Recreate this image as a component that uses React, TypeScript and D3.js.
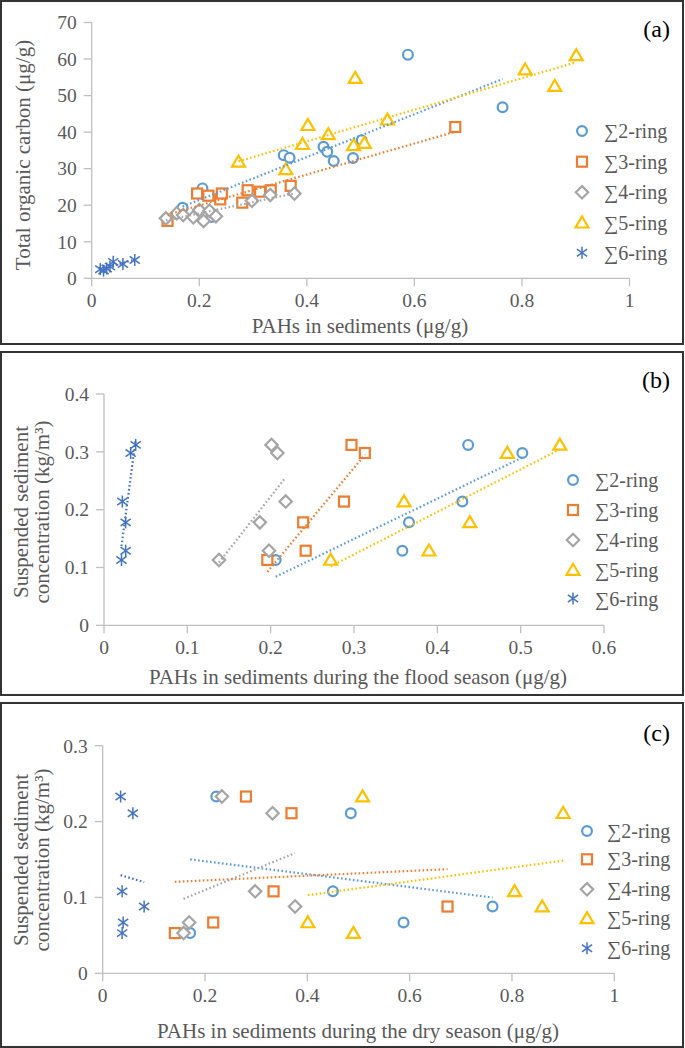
import React from 'react';
import * as d3 from 'd3';

const FONT = '"Liberation Serif", "Times New Roman", serif';

// ---------- series meta ----------
const seriesNames = ['∑2-ring', '∑3-ring', '∑4-ring', '∑5-ring', '∑6-ring'];
const seriesColors = ['#5B9BD5', '#ED7D31', '#A5A5A5', '#FFC000', '#4472C4'];
const seriesShapes = ['circle', 'square', 'diamond', 'triangle', 'star'];

// ---------- panel (a): TOC vs PAHs in sediments ----------
const a2x = [0.169, 0.206, 0.223, 0.357, 0.368, 0.431, 0.438, 0.450, 0.486, 0.502, 0.588, 0.764];
const a2y = [19.3, 24.6, 16.8, 33.7, 33.0, 36.0, 34.6, 32.1, 32.9, 37.8, 61.2, 46.8];
const a3x = [0.141, 0.196, 0.217, 0.239, 0.242, 0.280, 0.290, 0.313, 0.333, 0.370, 0.676];
const a3y = [15.7, 23.2, 22.6, 21.6, 23.2, 20.7, 24.1, 23.7, 24.1, 25.3, 41.4];
const a4x = [0.138, 0.158, 0.170, 0.189, 0.200, 0.208, 0.219, 0.231, 0.298, 0.332, 0.377];
const a4y = [16.4, 17.8, 17.3, 16.7, 18.7, 15.7, 18.5, 17.0, 21.2, 22.8, 23.2];
const a5x = [0.273, 0.361, 0.392, 0.402, 0.440, 0.487, 0.490, 0.507, 0.550, 0.806, 0.861, 0.901];
const a5y = [31.9, 29.8, 36.7, 41.9, 39.4, 36.4, 54.8, 37.0, 43.4, 57.1, 52.6, 61.0];
const a6x = [0.016, 0.022, 0.028, 0.034, 0.040, 0.058, 0.080];
const a6y = [2.5, 2.1, 2.7, 3.2, 4.5, 3.9, 5.0];
const aXTicks = [0, 0.2, 0.4, 0.6, 0.8, 1];
const aYTicks = [0, 10, 20, 30, 40, 50, 60, 70];

// ---------- panel (b): SSC vs PAHs, flood season ----------
const bSSC = [0.113, 0.129, 0.178, 0.214, 0.312, 0.298];
const b2x = [0.206, 0.358, 0.366, 0.430, 0.437, 0.502];
const b3x = [0.196, 0.242, 0.239, 0.288, 0.297, 0.313];
const b4x = [0.138, 0.198, 0.187, 0.218, 0.201, 0.208];
const b5x = [0.272, 0.390, 0.439, 0.360, 0.547, 0.484];
const b6x = [0.021, 0.026, 0.026, 0.022, 0.038, 0.032];
const bXTicks = [0, 0.1, 0.2, 0.3, 0.4, 0.5, 0.6];
const bYTicks = [0, 0.1, 0.2, 0.3, 0.4];

// ---------- panel (c): SSC vs PAHs, dry season ----------
const cSSC = [0.233, 0.211, 0.108, 0.088, 0.067, 0.053];
const c2x = [0.222, 0.485, 0.450, 0.762, 0.588, 0.171];
const c3x = [0.280, 0.369, 0.334, 0.674, 0.216, 0.141];
const c4x = [0.233, 0.332, 0.298, 0.376, 0.169, 0.158];
const c5x = [0.508, 0.900, 0.805, 0.859, 0.401, 0.490];
const c6x = [0.035, 0.059, 0.038, 0.081, 0.040, 0.038];
const cXTicks = [0, 0.2, 0.4, 0.6, 0.8, 1];
const cYTicks = [0, 0.1, 0.2, 0.3];

type Series = { xs: number[]; ys: number[] };

function regression(xs: number[], ys: number[]) {
  const mx = d3.mean(xs) as number;
  const my = d3.mean(ys) as number;
  let sxy = 0, sxx = 0;
  xs.forEach((x, i) => { sxy += (x - mx) * (ys[i] - my); sxx += (x - mx) * (x - mx); });
  const slope = sxx === 0 ? 0 : sxy / sxx;
  const x0 = d3.min(xs) as number;
  const x1 = d3.max(xs) as number;
  return [[x0, my + slope * (x0 - mx)], [x1, my + slope * (x1 - mx)]];
}

function Marker({ shape, x, y, color }: { shape: string; x: number; y: number; color: string }) {
  const sw = 2.2;
  if (shape === 'circle') return <circle cx={x} cy={y} r={4.9} fill="#fff" stroke={color} strokeWidth={sw} />;
  if (shape === 'square') return <rect x={x - 5} y={y - 5} width={10} height={10} fill="#fff" stroke={color} strokeWidth={sw} />;
  if (shape === 'diamond') {
    const r = 6.2;
    return <path d={`M${x},${y - r}L${x + r},${y}L${x},${y + r}L${x - r},${y}Z`} fill="#fff" stroke={color} strokeWidth={sw} />;
  }
  if (shape === 'triangle') {
    return <path d={`M${x},${y - 6.2}L${x + 6.5},${y + 4.8}L${x - 6.5},${y + 4.8}Z`} fill="#fff" stroke={color} strokeWidth={sw} strokeLinejoin="miter" />;
  }
  const r = 6;
  return (
    <g stroke={color} strokeWidth={1.5}>
      <line x1={x} y1={y - r} x2={x} y2={y + r} />
      <line x1={x - r * 0.85} y1={y - r * 0.6} x2={x + r * 0.85} y2={y + r * 0.6} />
      <line x1={x - r * 0.85} y1={y + r * 0.6} x2={x + r * 0.85} y2={y - r * 0.6} />
    </g>
  );
}

type PanelProps = {
  box: [number, number, number, number];
  plot: { x0: number; x1: number; yB: number; yT: number };
  xDomain: [number, number];
  yDomain: [number, number];
  xTicks: number[];
  yTicks: number[];
  series: Series[];
  legend: { mx: number; tx: number; ys: number[] };
  yTitle: string[];
  yTitleX: number[];
  yTitleY: number;
  xTitle: string;
  xTitleX: number;
  xTitleY: number;
  label: string;
  labelY: number;
};

function Panel(p: PanelProps) {
  const xs = d3.scaleLinear().domain(p.xDomain).range([p.plot.x0, p.plot.x1]);
  const ys = d3.scaleLinear().domain(p.yDomain).range([p.plot.yB, p.plot.yT]);
  const axisColor = '#BFBFBF';
  const textColor = '#595959';
  return (
    <g>
      <rect x={p.box[0]} y={p.box[1]} width={p.box[2]} height={p.box[3]} fill="#fff" stroke="#333" strokeWidth={2} />
      {/* axes */}
      <line x1={p.plot.x0} y1={p.plot.yB} x2={p.plot.x1} y2={p.plot.yB} stroke={axisColor} strokeWidth={1.3} />
      <line x1={p.plot.x0} y1={p.plot.yB} x2={p.plot.x0} y2={p.plot.yT} stroke={axisColor} strokeWidth={1.3} />
      {p.xTicks.map((t) => (
        <g key={'xt' + t}>
          <line x1={xs(t)} x2={xs(t)} y1={p.plot.yB} y2={p.plot.yB + 8} stroke={axisColor} strokeWidth={1.3} />
          <text x={xs(t)} y={p.plot.yB + 29} textAnchor="middle" fontFamily={FONT} fontSize={19.5} fill={textColor}>{String(t)}</text>
        </g>
      ))}
      {p.yTicks.map((t) => (
        <g key={'yt' + t}>
          <line x1={p.plot.x0 - 8} x2={p.plot.x0} y1={ys(t)} y2={ys(t)} stroke={axisColor} strokeWidth={1.3} />
          <text x={p.plot.x0 - 15} y={ys(t)} dy="0.35em" textAnchor="end" fontFamily={FONT} fontSize={19.5} fill={textColor}>{String(t)}</text>
        </g>
      ))}
      {/* markers */}
      {p.series.map((s, si) => (
        <g key={'s' + si}>
          {s.xs.map((x, i) => (
            <Marker key={i} shape={seriesShapes[si]} x={xs(x)} y={ys(s.ys[i])} color={seriesColors[si]} />
          ))}
        </g>
      ))}
      {/* trendlines */}
      {p.series.map((s, si) => {
        const [[x0, y0], [x1, y1]] = regression(s.xs, s.ys);
        return (
          <line key={'tl' + si} x1={xs(x0)} y1={ys(y0)} x2={xs(x1)} y2={ys(y1)} stroke={seriesColors[si]}
            strokeWidth={2.2} strokeDasharray="1.6 2.4" strokeLinecap="butt" />
        );
      })}
      {/* legend */}
      {seriesNames.map((n, i) => (
        <g key={'lg' + i}>
          <Marker shape={seriesShapes[i]} x={p.legend.mx} y={p.legend.ys[i]} color={seriesColors[i]} />
          <text x={p.legend.tx} y={p.legend.ys[i]} dy="0.35em" fontFamily={FONT} fontSize={20} fill={textColor}>{n}</text>
        </g>
      ))}
      {/* titles */}
      <text x={p.xTitleX} y={p.xTitleY} textAnchor="middle" fontFamily={FONT} fontSize={21} fill={textColor}>{p.xTitle}</text>
      {p.yTitle.map((t, i) => (
        <text key={'ytl' + i} transform={`translate(${p.yTitleX[i]},${p.yTitleY}) rotate(-90)`} textAnchor="middle" dy="0.35em"
          fontFamily={FONT} fontSize={21} fill={textColor}>{t}</text>
      ))}
      <text x={670} y={p.labelY} textAnchor="end" fontFamily={FONT} fontSize={24} fill="#000">{p.label}</text>
    </g>
  );
}

export default function App() {
  const aSeries: Series[] = [
    { xs: a2x, ys: a2y }, { xs: a3x, ys: a3y }, { xs: a4x, ys: a4y }, { xs: a5x, ys: a5y }, { xs: a6x, ys: a6y },
  ];
  const bSeries: Series[] = [b2x, b3x, b4x, b5x, b6x].map((xs) => ({ xs, ys: bSSC }));
  const cSeries: Series[] = [c2x, c3x, c4x, c5x, c6x].map((xs) => ({ xs, ys: cSSC }));
  return (
    <svg width={685} height={1048} style={{ position: 'absolute', left: 0, top: 0, background: '#fff' }}>
      <Panel box={[1, 1, 682, 343]} plot={{ x0: 91.7, x1: 629.5, yB: 278.3, yT: 22.5 }}
        xDomain={[0, 1]} yDomain={[0, 70]} xTicks={aXTicks} yTicks={aYTicks} series={aSeries}
        legend={{ mx: 582, tx: 604, ys: [131, 161.7, 192.3, 222.7, 252.7] }}
        yTitle={['Total organic carbon (μg/g)']} yTitleX={[23]} yTitleY={155}
        xTitle="PAHs in sediments (μg/g)" xTitleX={360} xTitleY={333} label="(a)" labelY={37} />
      <Panel box={[1, 352, 682, 343]} plot={{ x0: 104, x1: 604, yB: 625.3, yT: 394 }}
        xDomain={[0, 0.6]} yDomain={[0, 0.4]} xTicks={bXTicks} yTicks={bYTicks} series={bSeries}
        legend={{ mx: 573, tx: 595, ys: [480, 510, 540, 570, 598.5] }}
        yTitle={['Suspended sediment', 'concentration (kg/m³)']} yTitleX={[21, 42]} yTitleY={512}
        xTitle="PAHs in sediments during the flood season (μg/g)" xTitleX={358} xTitleY={684} label="(b)" labelY={388} />
      <Panel box={[1, 703, 682, 344]} plot={{ x0: 102.7, x1: 614.3, yB: 973.3, yT: 745.7 }}
        xDomain={[0, 1]} yDomain={[0, 0.3]} xTicks={cXTicks} yTicks={cYTicks} series={cSeries}
        legend={{ mx: 587, tx: 607, ys: [831, 859.3, 889.3, 918.3, 948.3] }}
        yTitle={['Suspended sediment', 'concentration (kg/m³)']} yTitleX={[21, 42]} yTitleY={860}
        xTitle="PAHs in sediments during the dry season (μg/g)" xTitleX={358} xTitleY={1038} label="(c)" labelY={741} />
    </svg>
  );
}
